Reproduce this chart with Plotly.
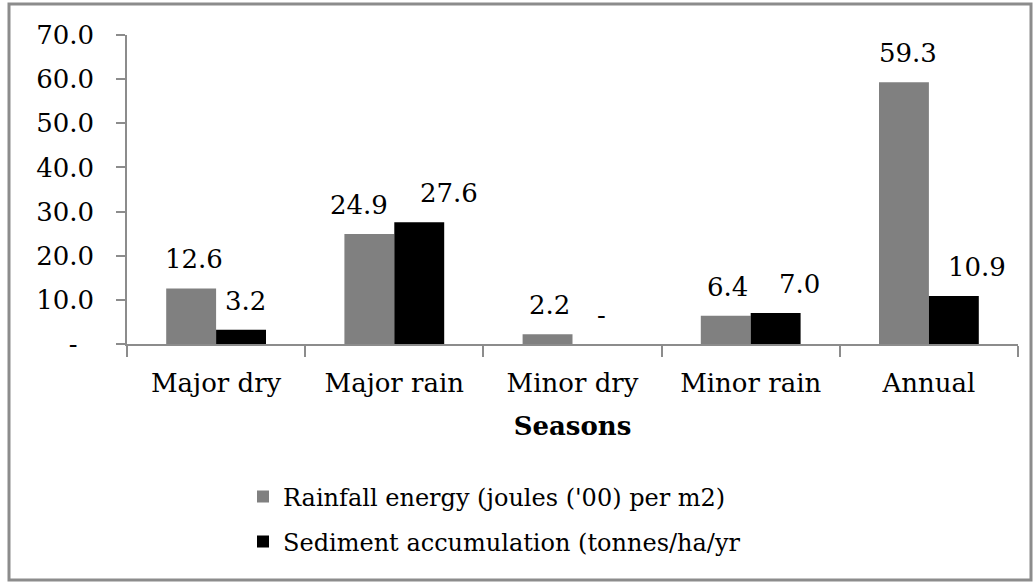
import plotly.graph_objects as go

categories = ["Major dry", "Major rain", "Minor dry", "Minor rain", "Annual"]
rainfall_energy = [12.6, 24.9, 2.2, 6.4, 59.3]
sediment = [3.2, 27.6, 0.0, 7.0, 10.9]
series_names = ["Rainfall energy (joules ('00) per m2)", "Sediment accumulation (tonnes/ha/yr"]
y_tickvals = [0, 10, 20, 30, 40, 50, 60, 70]
y_ticktext = ["-\u00a0\u00a0", "10.0", "20.0", "30.0", "40.0", "50.0", "60.0", "70.0"]

# horizontal nudges of the value labels (pixels), as placed in the original
rain_label_nudge = [3, -10, 2, 2, 4]
sed_label_nudge = [4, 30, 4, 24, 23]

FONT = "DejaVu Serif"
FS = 26
LEG_FS = 24

def lab(v):
    return "-" if v == 0 else f"{v:.1f}"

fig = go.Figure()
fig.add_trace(go.Bar(
    x=categories, y=rainfall_energy, name=series_names[0],
    marker=dict(color="#808080", line=dict(width=0)),
    legend="legend", showlegend=True,
))
fig.add_trace(go.Bar(
    x=categories, y=sediment, name=series_names[1],
    marker=dict(color="#000000", line=dict(width=0)),
    legend="legend2", showlegend=True,
))

W, H = 1036, 582
L, R, T, B = 127, 18, 35, 238
pw = W - L - R
ph = H - T - B
BARGAP = 0.44
cat_px = pw / len(categories)
half_bar = cat_px * (1 - BARGAP) / 4

def px_x(p):
    return (p - L) / pw

def px_y(p):
    return (H - B - p) / ph

annotations = []
for series, sign, nudges in ((rainfall_energy, -1, rain_label_nudge), (sediment, 1, sed_label_nudge)):
    for c, v, n in zip(categories, series, nudges):
        annotations.append(dict(
            x=c, y=v, xref="x", yref="y", text=lab(v), showarrow=False,
            xshift=sign * half_bar + n, yanchor="bottom", yshift=12,
            font=dict(family=FONT, size=FS, color="black"),
        ))

fig.update_layout(
    width=W, height=H,
    margin=dict(l=L, r=R, t=T, b=B),
    paper_bgcolor="white", plot_bgcolor="white",
    font=dict(family=FONT, size=FS, color="black"),
    showlegend=True,
    barmode="group", bargap=BARGAP, bargroupgap=0.0,
    xaxis=dict(
        type="category", showgrid=False, showline=True, linecolor="#8c8c8c", linewidth=1.5,
        ticks="outside", tickson="boundaries", ticklen=11, tickcolor="#8c8c8c", tickwidth=1.5,
        tickfont=dict(family=FONT, size=FS), ticklabelstandoff=15,
        title=dict(text="<b>Seasons</b>", font=dict(family=FONT, size=FS), standoff=20),
    ),
    yaxis=dict(
        range=[0, 70], showgrid=False, showline=True, linecolor="#8c8c8c", linewidth=1.5,
        tickvals=y_tickvals, ticktext=y_ticktext,
        ticks="outside", ticklen=9, tickcolor="#8c8c8c", tickwidth=1.5,
        tickfont=dict(family=FONT, size=FS), ticklabelstandoff=17, zeroline=False,
    ),
    legend=dict(
        x=px_x(243), y=px_y(497), xanchor="left", yanchor="middle",
        font=dict(family=FONT, size=LEG_FS, color="black"), bgcolor="rgba(0,0,0,0)",
    ),
    legend2=dict(
        x=px_x(243), y=px_y(542), xanchor="left", yanchor="middle",
        font=dict(family=FONT, size=LEG_FS, color="black"), bgcolor="rgba(0,0,0,0)",
    ),
    annotations=annotations,
    shapes=[dict(
        type="rect", xref="paper", yref="paper",
        x0=px_x(9), x1=px_x(1031), y0=px_y(580), y1=px_y(4),
        line=dict(color="#8c8c8c", width=3), fillcolor="rgba(0,0,0,0)", layer="below",
    )],
)

fig.write_html(
    "out.html",
    config={"displayModeBar": False},
    post_script="document.body.style.margin='0';document.body.style.overflow='hidden';",
)
